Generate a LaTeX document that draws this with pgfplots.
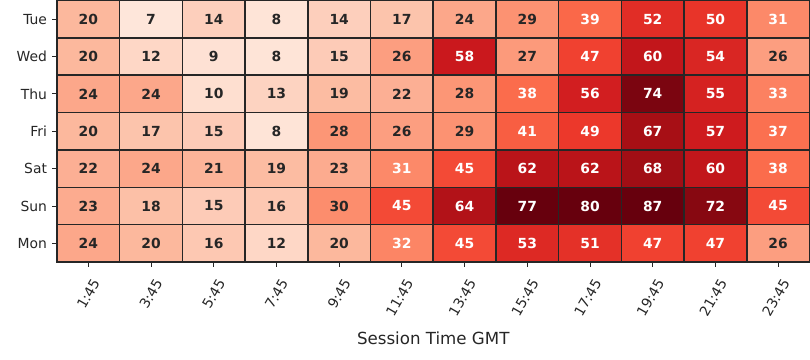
\documentclass[border=0pt]{standalone}
\usepackage{pgfplots}
\pgfplotsset{compat=1.18}
\usepackage{pgfplotstable}
\usepackage{fontspec}
\setmainfont{DejaVu Sans}
\definecolor{c26}{RGB}{38,38,38}
\pgfplotstableread{
x y c
0 0 24
1 0 20
2 0 16
3 0 12
4 0 20
5 0 32
6 0 45
7 0 53
8 0 51
9 0 47
10 0 47
11 0 26
0 1 23
1 1 18
2 1 15
3 1 16
4 1 30
5 1 45
6 1 64
7 1 77
8 1 80
9 1 87
10 1 72
11 1 45
0 2 22
1 2 24
2 2 21
3 2 19
4 2 23
5 2 31
6 2 45
7 2 62
8 2 62
9 2 68
10 2 60
11 2 38
0 3 20
1 3 17
2 3 15
3 3 8
4 3 28
5 3 26
6 3 29
7 3 41
8 3 49
9 3 67
10 3 57
11 3 37
0 4 24
1 4 24
2 4 10
3 4 13
4 4 19
5 4 22
6 4 28
7 4 38
8 4 56
9 4 74
10 4 55
11 4 33
0 5 20
1 5 12
2 5 9
3 5 8
4 5 15
5 5 26
6 5 58
7 5 27
8 5 47
9 5 60
10 5 54
11 5 26
0 6 20
1 6 7
2 6 14
3 6 8
4 6 14
5 6 17
6 6 24
7 6 29
8 6 39
9 6 52
10 6 50
11 6 31
}\data
\begin{document}
\begin{tikzpicture}
\useasboundingbox (-41.04bp,-70.56bp) rectangle (542.16bp,188.64bp);
\begin{axis}[
  at={(0,0)}, anchor=south west,
  scale only axis, width=541.8bp, height=188.3bp,
  xmin=-0.5, xmax=11.5, ymin=-0.5, ymax=6.5,
  enlargelimits=false,
  colormap={reds}{rgb255=(255,245,240) rgb255=(254,224,210) rgb255=(252,187,161) rgb255=(252,146,114) rgb255=(251,106,74) rgb255=(239,59,44) rgb255=(203,24,29) rgb255=(165,15,21) rgb255=(103,0,13)},
  point meta min=0, point meta max=77,
  xtick={0,...,11},
  xticklabels={1:45,3:45,5:45,7:45,9:45,11:45,13:45,15:45,17:45,19:45,21:45,23:45},
  ytick={0,...,6},
  yticklabels={Mon,Sun,Sat,Fri,Thu,Wed,Tue},
  minor xtick={-0.5,0.5,...,11.5},
  minor ytick={-0.5,0.5,...,6.5},
  xminorgrids, yminorgrids,
  minor grid style={draw=c26, line width=1.1bp},
  minor tick length=0pt,
  tick align=outside,
  major tick length=3.5bp,
  xtick pos=bottom, ytick pos=left,
  tick style={draw=c26, line width=0.6bp},
  axis line style={draw=c26, line width=1.1bp},
  axis on top,
  ticklabel style={font=\fontsize{10bp}{12bp}\selectfont, text=c26},
  x tick label style={xshift=2bp, yshift=-7.4bp, rotate=60, anchor=north east, inner sep=0pt, text height=7.6bp, text depth=2.1bp},
  y tick label style={xshift=-3.5bp, anchor=east, inner sep=0pt},
  xlabel={Session Time GMT},
  xlabel style={font=\fontsize{12bp}{14bp}\selectfont, text=c26, at={(axis description cs:0.5,-0.29)}, anchor=center},
]
\addplot[matrix plot*, mesh/cols=12, mesh/rows=7, point meta=explicit] table[x=x, y=y, meta=c]{\data};
\addplot[only marks, mark=none, point meta=explicit symbolic,
  restrict expr to domain={\thisrow{c}}{0:30.5},
  nodes near coords={\textbf{\pgfplotspointmeta}},
  every node near coord/.style={anchor=center, text=c26, font=\fontsize{10bp}{12bp}\selectfont}]
  table[x=x, y=y, meta=c]{\data};
\addplot[only marks, mark=none, point meta=explicit symbolic,
  restrict expr to domain={\thisrow{c}}{30.5:100},
  nodes near coords={\textbf{\pgfplotspointmeta}},
  every node near coord/.style={anchor=center, text=white, font=\fontsize{10bp}{12bp}\selectfont}]
  table[x=x, y=y, meta=c]{\data};
\end{axis}
\end{tikzpicture}
\end{document}
